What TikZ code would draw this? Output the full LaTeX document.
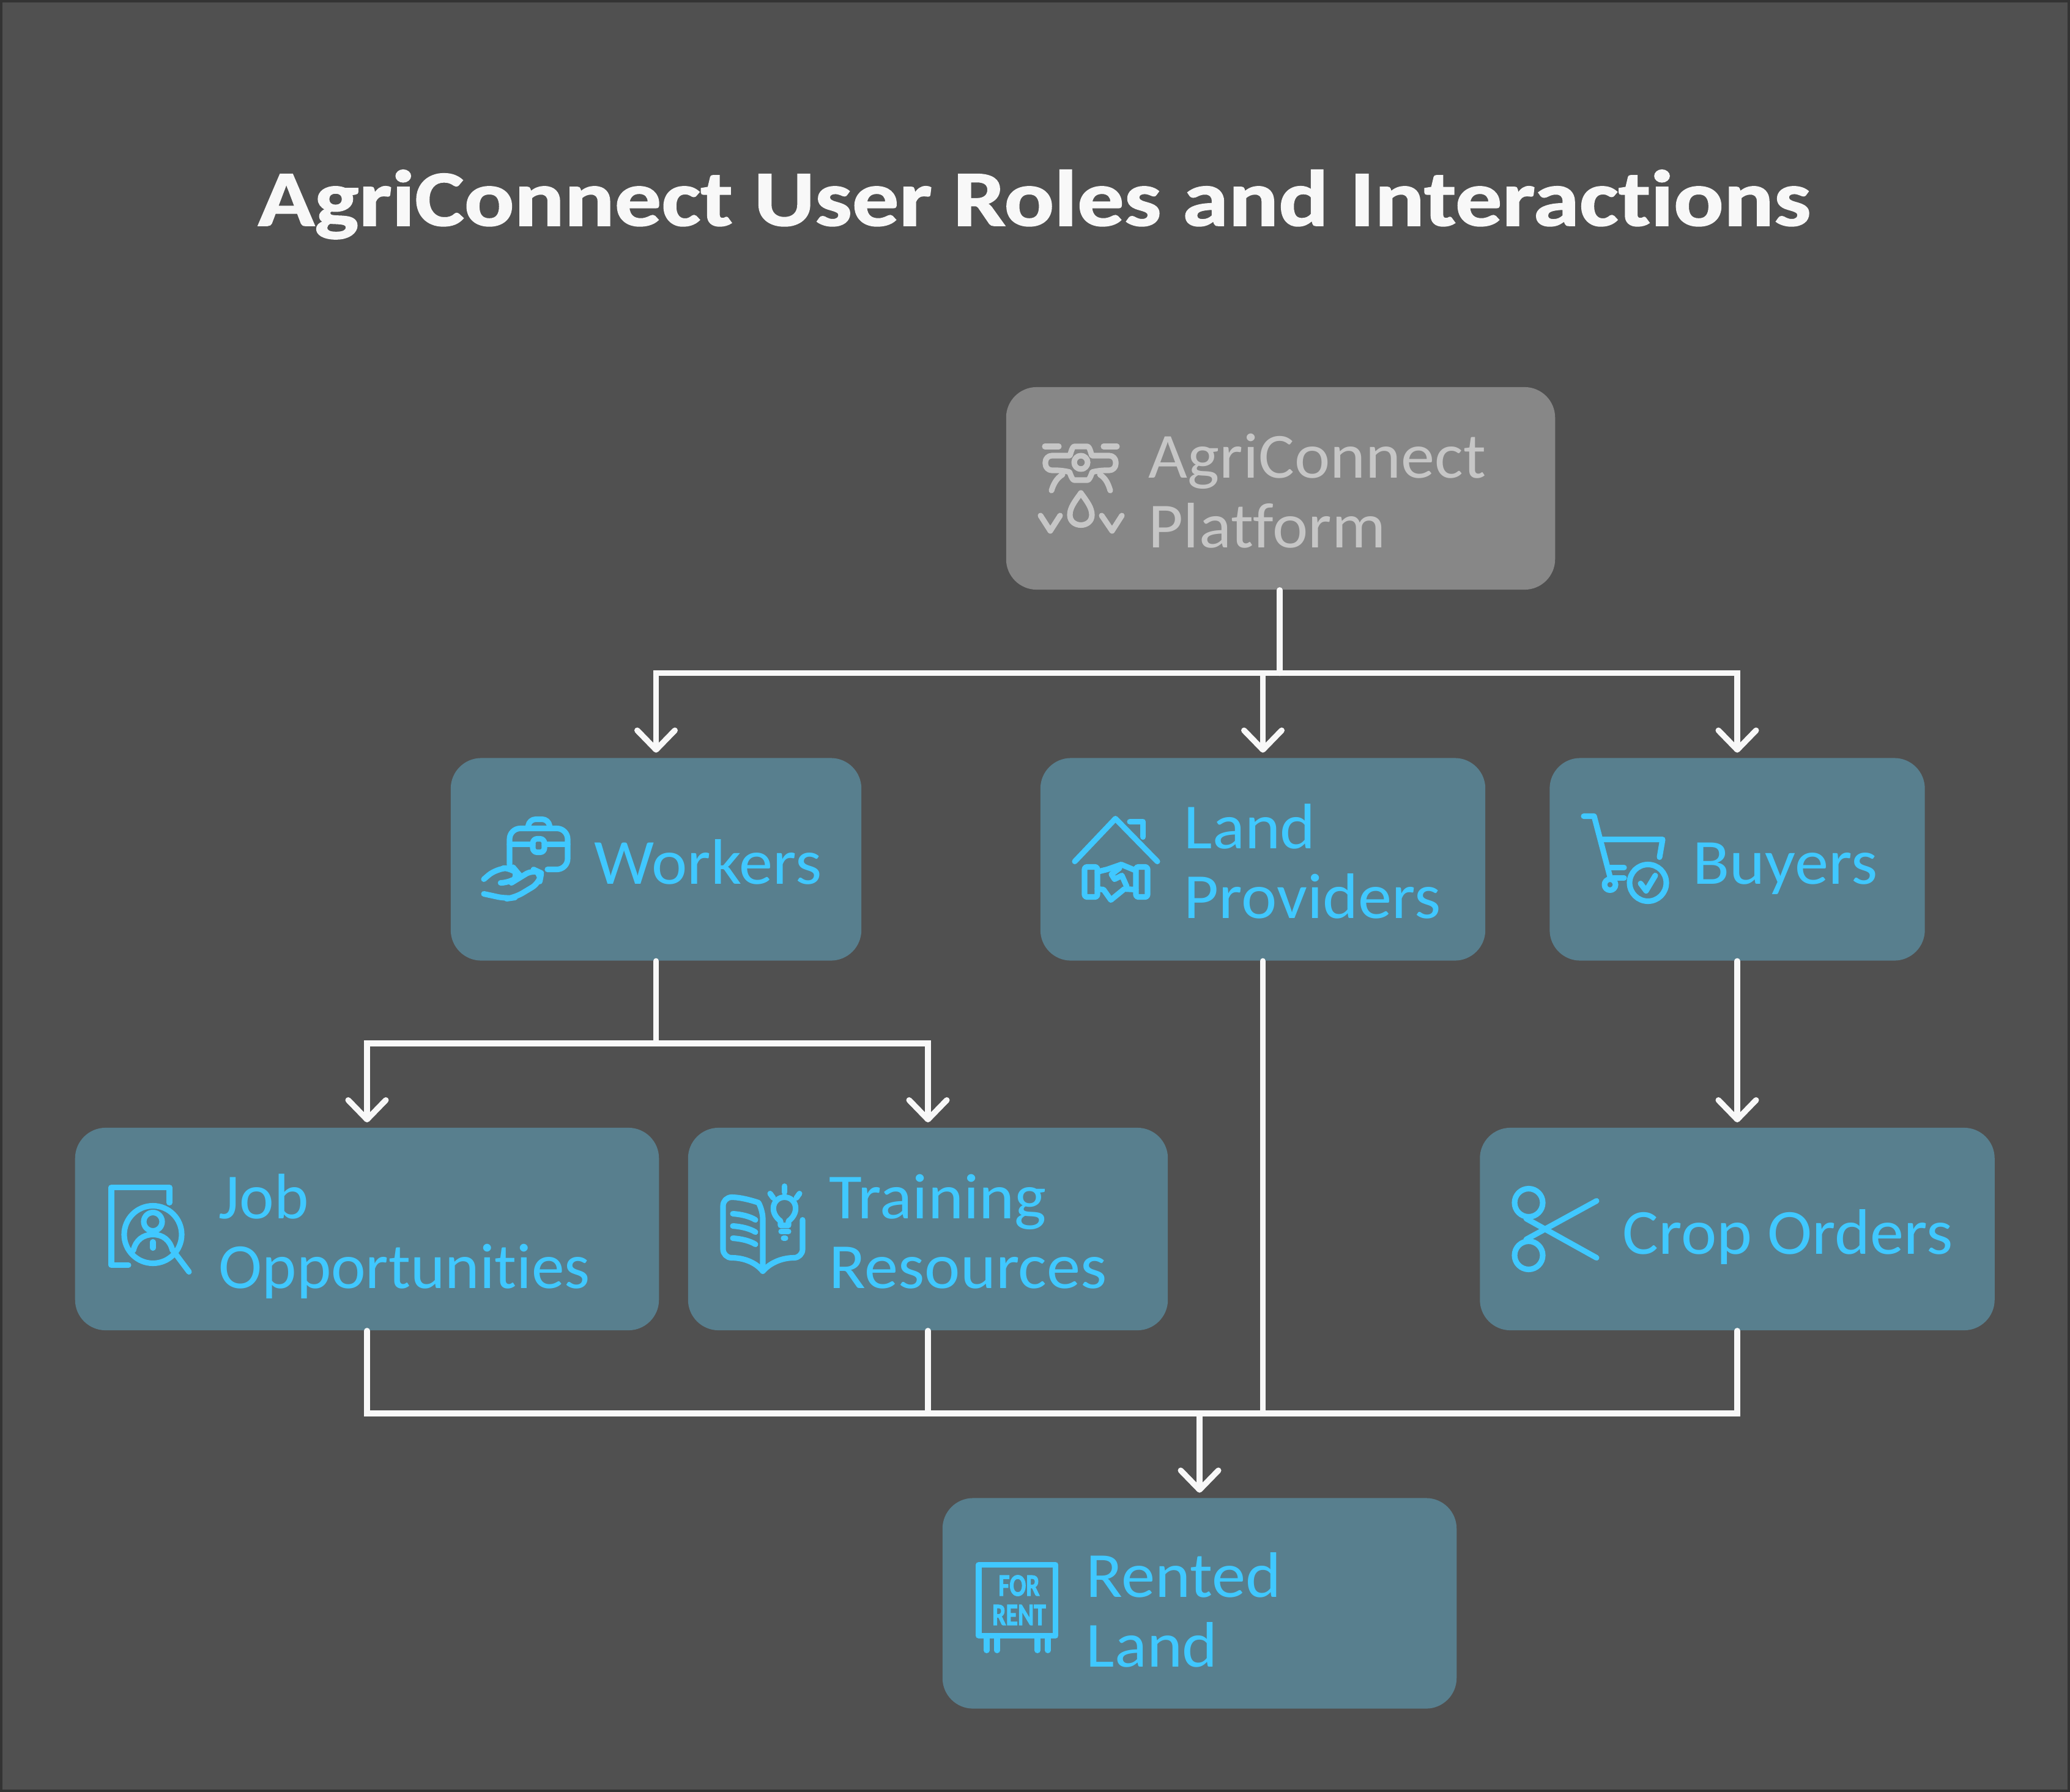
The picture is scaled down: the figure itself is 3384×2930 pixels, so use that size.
\documentclass[tikz,border=0pt]{standalone}
\usepackage{fontspec}
\setmainfont[Ligatures=NoCommon]{Carlito}
\newfontfamily\titlefont[Ligatures=NoCommon,BoldFeatures={FakeBold=1.2}]{Carlito}
\newfontfamily\signfont[BoldFeatures={FakeBold=2.2}]{Carlito}
\usetikzlibrary{arrows.meta}

\definecolor{canvasgrey}{HTML}{505050}
\definecolor{edgegrey}{HTML}{333333}
\definecolor{rootgrey}{HTML}{878787}
\definecolor{softgrey}{HTML}{C6C6C6}
\definecolor{rolefill}{HTML}{587F8E}
\definecolor{roleblue}{HTML}{40C8FF}
\definecolor{linkwhite}{HTML}{F8F8F8}

\tikzset{
  rolebox/.style={rectangle, rounded corners=14.2pt, fill=rolefill, inner sep=0pt, minimum height=3.31cm},
  rolelabel/.style={anchor=base west, inner sep=0pt, align=left, xscale=1.05, text=roleblue, font=\fontsize{29.9}{32.15}\selectfont},
  link/.style={line width=2.7pt, draw=linkwhite, line cap=round},
  arrowlink/.style={link, -{Straight Barb[length=9pt,width=17.5pt,round]}, shorten >=2.3pt},
  icon/.style={line width=2.6pt, draw=roleblue, line cap=round, line join=round},
  softicon/.style={icon, draw=softgrey},
  signlabel/.style={inner sep=0pt, xscale=0.78, text=roleblue, font=\fontsize{14.5}{14.5}\selectfont\signfont\bfseries}
}

\begin{document}
\begin{tikzpicture}[x=0.01cm,y=-0.01cm]

\useasboundingbox (0,0) rectangle (3384,2930);
\fill[canvasgrey, draw=edgegrey, line width=1.4pt] (2,2) rectangle (3382,2928);

% NODES %%%%%%%%%%%%%%%%%%%%%%%%%%%%%%%%%%%%%%%%%%%%%%%%%%%%%%%%%%%%%%%%%%

\node[rolebox, fill=rootgrey, minimum width=8.97cm] (agri) at (2093.5,798.5) {};

\node[rolebox, minimum width=6.71cm] (workers) at (1072.5,1405) {};
\node[rolebox, minimum width=7.27cm] (land) at (2064.5,1405) {};
\node[rolebox, minimum width=6.13cm] (buyers) at (2840,1405) {};

\node[rolebox, minimum width=9.54cm] (job) at (600,2009.5) {};
\node[rolebox, minimum width=7.84cm] (training) at (1517,2009.5) {};
\node[rolebox, minimum width=8.41cm] (crop) at (2840,2009.5) {};

\node[rolebox, minimum width=8.40cm, minimum height=3.44cm] (rented) at (1961,2621.5) {};

\coordinate (bustop) at (2092,1100.5);
\coordinate (busmid) at (1072.5,1706);
\coordinate (buslow) at (1961,2311);

% LINKS %%%%%%%%%%%%%%%%%%%%%%%%%%%%%%%%%%%%%%%%%%%%%%%%%%%%%%%%%%%%%%%%%%

\draw[link] (agri.south -| bustop) -- (bustop);
\draw[arrowlink] (bustop) -| (workers.north);
\draw[arrowlink] (bustop) -| (land.north);
\draw[arrowlink] (bustop) -| (buyers.north);

\draw[link] (workers.south) -- (busmid);
\draw[arrowlink] (busmid) -| (job.north);
\draw[arrowlink] (busmid) -| (training.north);
\draw[arrowlink] (buyers.south) -- (crop.north);

\draw[link] (job.south) |- (buslow);
\draw[link] (training.south) |- (buslow);
\draw[link] (land.south) |- (buslow);
\draw[link] (crop.south) |- (buslow);
\draw[arrowlink] (buslow) -- (rented.north);

% ETIQUETTES %%%%%%%%%%%%%%%%%%%%%%%%%%%%%%%%%%%%%%%%%%%%%%%%%%%%%%%%%%%%%

\node[anchor=base, inner sep=0pt, xscale=1.172, text=linkwhite, font=\fontsize{37}{40}\selectfont\titlefont\bfseries] (title) at (1691,369) {AgriConnect User Roles and Interactions};

\node[rolelabel, text=softgrey] (agritext) at (1877,895) {AgriConnect\\Platform};
\node[rolelabel] (workerstext) at (971,1445) {Workers};
\node[rolelabel] (landtext) at (1935,1501) {Land\\Providers};
\node[rolelabel] (buyerstext) at (2767,1445) {Buyers};
\node[rolelabel, xscale=0.972] (jobtext) at (357,2106) {Job\\Opportunities};
\node[rolelabel] (trainingtext) at (1355,2106) {Training\\Resources};
\node[rolelabel] (croptext) at (2652,2050) {Crop Orders};
\node[rolelabel] (rentedtext) at (1775,2725) {Rented\\Land};

% ICONS %%%%%%%%%%%%%%%%%%%%%%%%%%%%%%%%%%%%%%%%%%%%%%%%%%%%%%%%%%%%%%%%%%

% drone
\draw[softicon] (1708,730) -- (1731,730);
\draw[softicon] (1804,730) -- (1826,730);
\draw[softicon, rounded corners=3pt] (1738,745) .. controls (1750,745) and (1752,730) .. (1767,730) .. controls (1782,730) and (1784,745) .. (1796,745) -- (1824,745) -- (1824,769) -- (1796,769) .. controls (1785,772) and (1782,785) .. (1767,785) .. controls (1752,785) and (1749,772) .. (1738,769) -- (1709,769) -- (1709,745) -- cycle;
\draw[softicon] (1767,756) circle[radius=11];
\draw[softicon] (1737,776) .. controls (1727,782) and (1722,792) .. (1719,802);
\draw[softicon] (1798,776) .. controls (1808,782) and (1812,792) .. (1815,802);
\draw[softicon] (1767,806) .. controls (1757,820) and (1749,830) .. (1749,842) .. controls (1749,864) and (1785,864) .. (1785,842) .. controls (1785,830) and (1777,820) .. (1767,806) -- cycle;
\draw[softicon] (1701,843) -- (1717,868) -- (1733,843);
\draw[softicon] (1801,843) -- (1818,868) -- (1834,843);

\begin{scope}[yshift=-0.015cm]
% briefcase on a hand
\draw[icon, rounded corners=5pt] (833,1412) -- (833,1353) -- (928,1353) -- (928,1420) -- (895,1420);
\draw[icon, rounded corners=3pt] (863,1353) -- (865,1338) -- (897,1338) -- (899,1353);
\draw[icon] (833,1379) -- (871,1379);
\draw[icon] (890,1379) -- (928,1379);
\draw[icon, rounded corners=2pt] (871,1370) rectangle (890,1392);
\draw[icon, rounded corners=5pt] (791,1436) -- (812,1418) -- (840,1418) -- (850,1430) -- (836,1442) -- (819,1442);
\draw[icon, rounded corners=4pt] (836,1442) -- (872,1420) -- (885,1426) -- (882,1442) -- (842,1466) -- (828,1468) -- (791,1460);

% house and handshake
\draw[icon] (1757,1407) -- (1823.5,1337) -- (1892,1407);
\draw[icon] (1847,1342) -- (1868.5,1342) -- (1868.5,1367);
\draw[icon, rounded corners=1pt] (1773,1416) rectangle (1794,1465);
\draw[icon, rounded corners=1pt] (1857,1416) rectangle (1876,1465);
\draw[icon] (1794,1424) -- (1810,1420) -- (1833,1412) -- (1857,1422);
\draw[icon] (1794,1452) -- (1804,1453) -- (1816,1470) -- (1838,1452) -- (1857,1453);
\draw[icon] (1830,1418) -- (1817,1428) -- (1822,1436) -- (1834,1430) -- (1842,1448);

% cart
\draw[icon] (2589,1333) -- (2606,1333) -- (2632,1432);
\draw[icon] (2618,1371) -- (2718,1371) -- (2713,1400);
\draw[icon] (2630,1417) -- (2655,1417);
\draw[icon] (2637,1434) -- (2655,1434);
\draw[icon] (2632,1445) circle[radius=9];
\draw[icon] (2694,1442) circle[radius=30];
\draw[icon] (2682,1443) -- (2691,1455) -- (2706,1430);

% magnified person on a sheet
\draw[icon] (277,1965) -- (277,1940) -- (182,1940) -- (182,2067) -- (210,2067);
\draw[icon] (250,2017) circle[radius=47];
\draw[icon] (288,2050) -- (309,2078);
\draw[icon] (250,1996) circle[radius=15];
\draw[icon] (218,2043) .. controls (222,2026) and (234,2017) .. (250,2017) .. controls (266,2017) and (278,2026) .. (282,2043);
\draw[icon] (250,2029) -- (250,2039);

% book and bulb
\draw[icon, rounded corners=4pt] (1247,2077) -- (1247,1977) .. controls (1240,1965) and (1215,1956) .. (1182,1956) -- (1182,2055) .. controls (1215,2055) and (1235,2062) .. (1247,2077);
\draw[icon, rounded corners=4pt] (1312,1993) -- (1312,2055) .. controls (1280,2055) and (1260,2062) .. (1247,2077);
\foreach \ly in {1983,2003,2023}
  \draw[icon] (1198,\ly) .. controls (1212,\ly+1) and (1225,\ly+4) .. (1235,\ly+10);
\draw[icon] (1276,2002) -- (1276,1995) .. controls (1256,1980) and (1264,1956) .. (1282.5,1956) .. controls (1301,1956) and (1309,1980) .. (1289,1995) -- (1289,2002) -- cycle;
\draw[icon] (1277,2012) -- (1289,2012);
\draw[icon] (1281,2023) -- (1284,2023);
\draw[icon] (1282.5,1938) -- (1282.5,1948);
\draw[icon] (1259,1950) -- (1264,1957);
\draw[icon] (1307,1950) -- (1302,1957);

% scissors
\draw[icon] (2499,1965) circle[radius=23];
\draw[icon] (2499,2051) circle[radius=23];
\draw[icon] (2495,1991) -- (2610,2055);
\draw[icon] (2495,2025) -- (2610,1962);

% for rent sign
\draw[icon] (1600,2557) rectangle (1725.5,2673);
\foreach \lx in {1613,1630,1696,1713}
  \draw[icon] (\lx,2673) -- (\lx,2697);
\node[signlabel] (forlabel) at (1666,2591) {FOR};
\node[signlabel] (rentlabel) at (1666,2639) {RENT};
\end{scope}

\end{tikzpicture}
\end{document}
